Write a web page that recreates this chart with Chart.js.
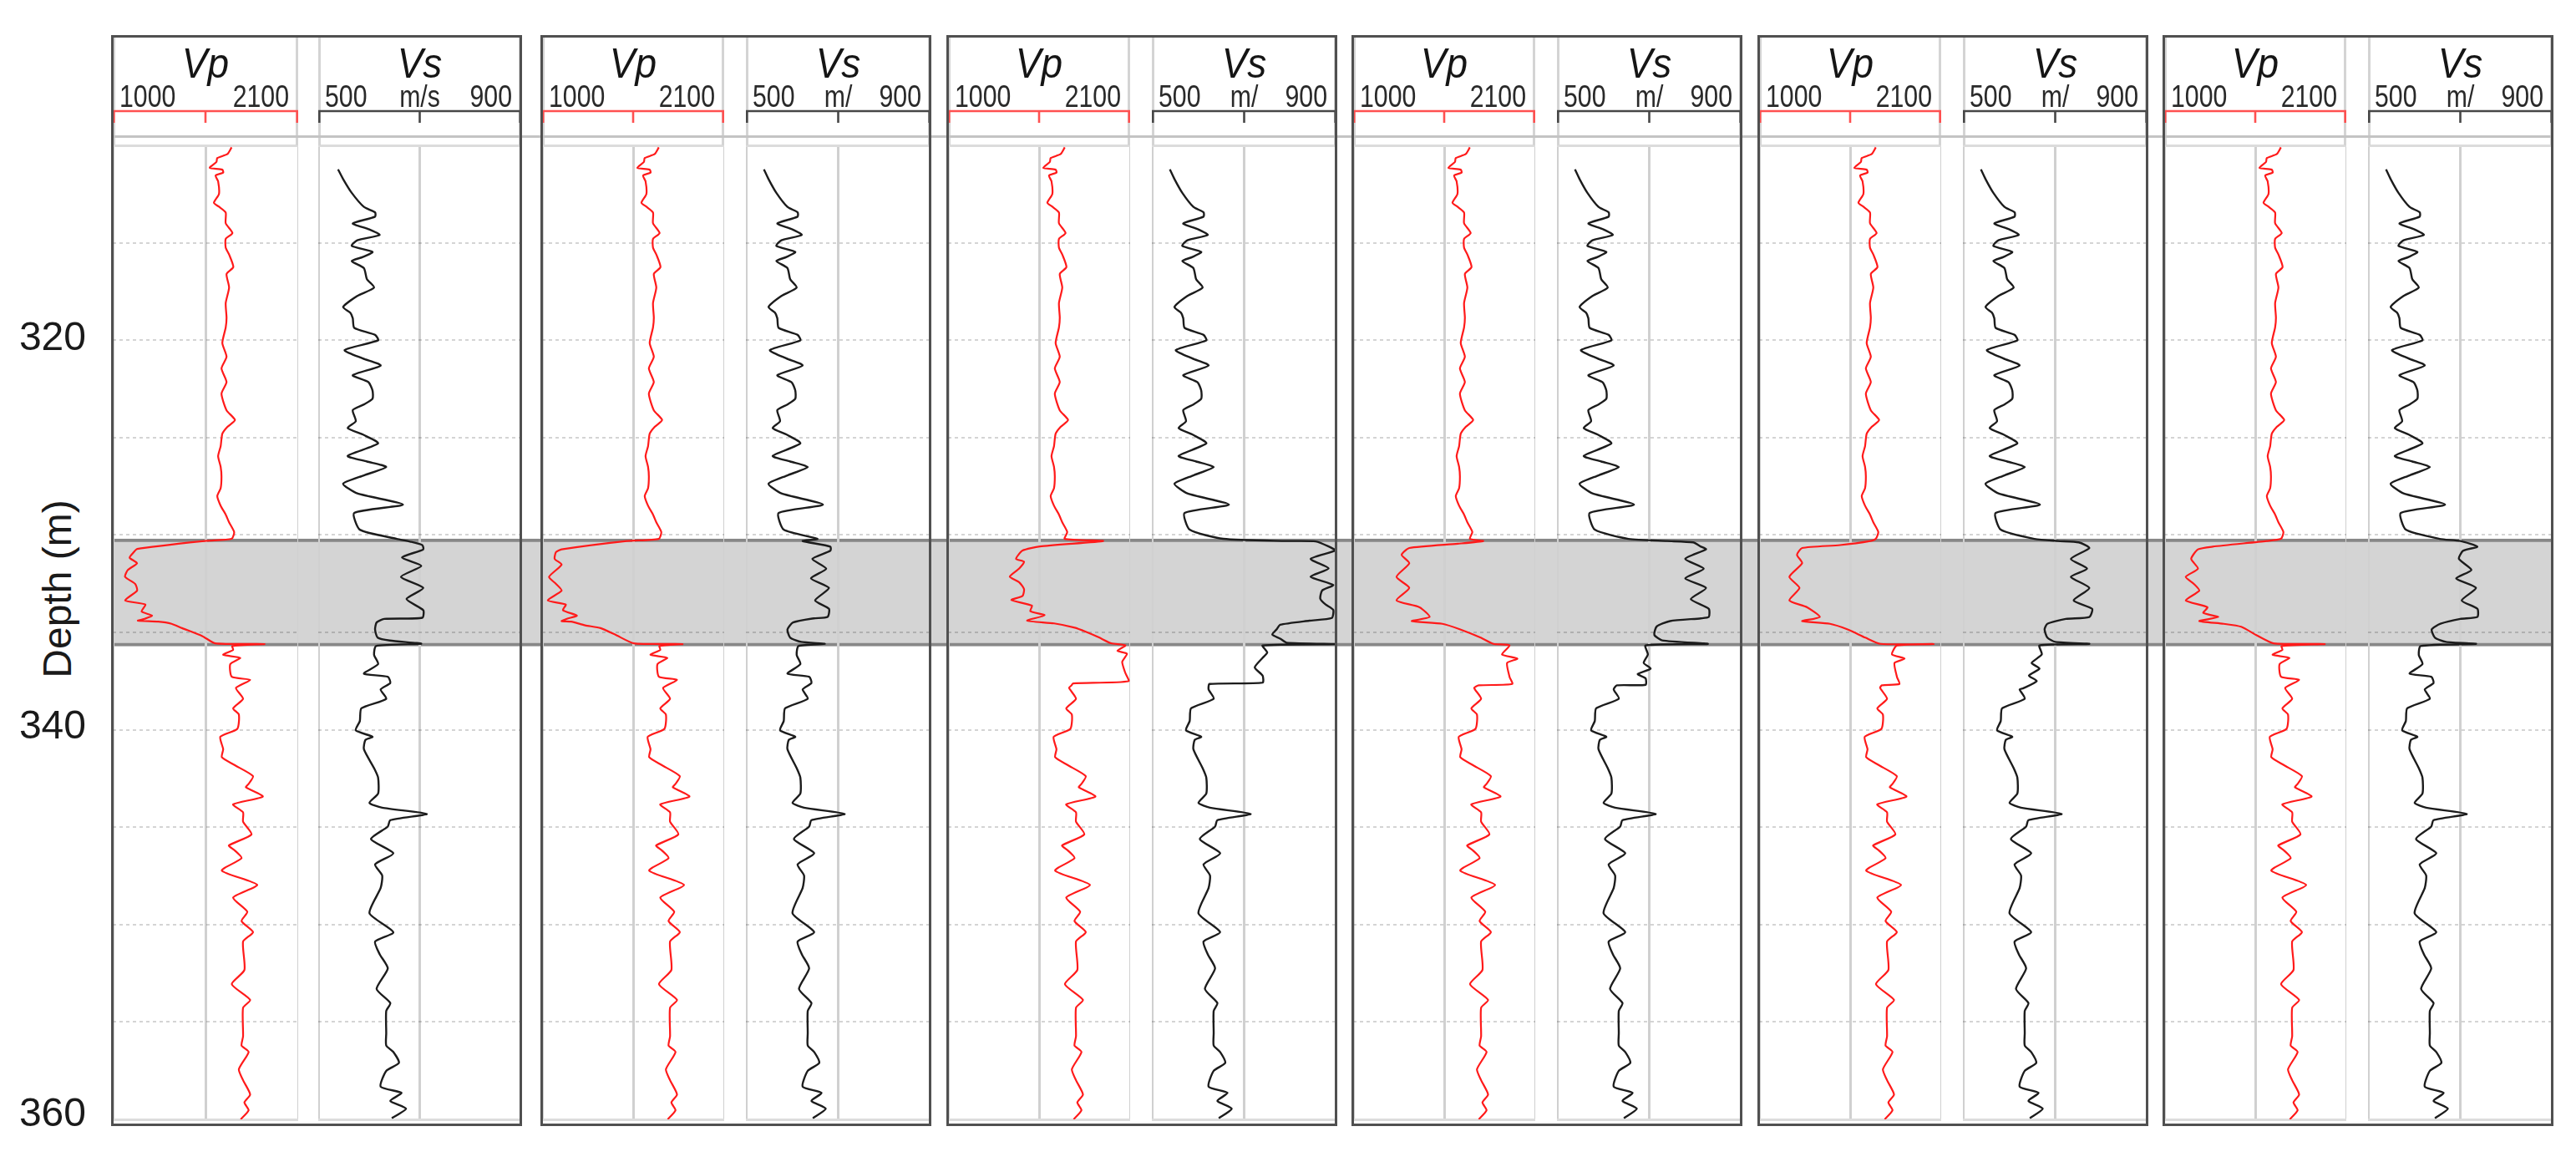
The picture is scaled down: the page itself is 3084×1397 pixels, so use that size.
<!DOCTYPE html>
<html>
<head>
<meta charset="utf-8">
<script src="https://cdn.jsdelivr.net/npm/chart.js@4.4.1/dist/chart.umd.min.js"></script>
<style>
html,body{margin:0;padding:0;background:#fff;}
body{width:3084px;height:1397px;position:relative;overflow:hidden;font-family:"Liberation Sans",Arial,sans-serif;}
canvas{position:absolute;display:block;}
.frame{position:absolute;box-sizing:border-box;border:3px solid #505050;pointer-events:none;z-index:4;}
.sep{position:absolute;height:3px;background:#c4c4c4;z-index:3;}
#ytitle{position:absolute;left:68px;top:705px;font-size:48px;color:#1a1a1a;white-space:nowrap;transform:translate(-50%,-50%) rotate(-90deg);}
</style>
</head>
<body>
<div id="ytitle">Depth (m)</div>
<script>
// ---------------- DATA ----------------
const depthRange = [310, 360];
const depthTickLabels = [320, 340, 360];
const zoneDepths = [330.2, 335.7];
const zoneLabels = ['zone'];
const trackTitles = ['Vp', 'Vs'];
const vpRange = [1000, 2100];
const vsRange = [500, 900];
const vpTickLabels = ['1000', '', '2100'];
const vsTickLabelsFirst = ['500', 'm/s', '900'];
const vsTickLabels = ['500', 'm/', '900'];

// [depth, value] — common section above the zone (all panels)
const upperVp = [[310.1,1705],[310.45,1680],[310.65,1620],[310.85,1615],[311.15,1575],[311.25,1650],[311.4,1655],[311.55,1610],[311.85,1625],[312.5,1630],[312.95,1600],[313.15,1630],[313.45,1670],[314.0,1670],[314.5,1710],[314.8,1670],[315.25,1670],[315.6,1690],[316.25,1715],[316.6,1675],[317.3,1690],[318.1,1670],[318.85,1675],[319.35,1670],[320.15,1650],[320.85,1675],[321.45,1645],[322.15,1675],[322.75,1645],[323.6,1675],[324.1,1725],[324.45,1680],[324.8,1650],[325.45,1640],[325.95,1625],[326.5,1640],[327.0,1645],[327.6,1640],[328.0,1620],[328.5,1640],[328.95,1670],[329.35,1690],[329.85,1720],[330.2,1705]];
const upperVs = [[311.23,539],[311.73,549],[312.44,566],[313.16,590],[313.44,612],[313.66,612],[314.01,568],[314.3,599],[314.6,621],[314.87,577],[315.16,566],[315.47,607],[315.73,588],[315.94,566],[316.3,590],[316.87,596],[317.3,610],[317.73,577],[318.3,549],[318.59,563],[318.87,568],[319.37,571],[319.73,612],[320.01,618],[320.51,552],[320.94,588],[321.3,623],[321.8,568],[322.16,599],[322.59,607],[323.01,607],[323.3,590],[323.59,568],[324.16,574],[324.51,558],[324.87,590],[325.3,618],[325.94,558],[326.23,596],[326.51,634],[326.94,590],[327.37,549],[327.87,577],[328.44,667],[328.87,571],[329.73,582],[330.2,655]];

// zone section, one per panel
const zoneVp1 = [[330.3,1555],[330.72,1145],[330.95,1118],[331.17,1100],[331.45,1144],[331.8,1089],[332.15,1073],[332.51,1133],[332.86,1144],[333.36,1073],[333.57,1193],[333.93,1171],[334.14,1233],[334.3,1190],[334.4,1149],[334.45,1270],[334.56,1349],[334.78,1411],[335.2,1533],[335.56,1607],[335.6,1900]];
const zoneVs1 = [[330.34,681],[330.52,705],[330.74,707],[331.16,665],[331.59,703],[332.15,663],[332.72,707],[333.29,674],[333.86,707],[334.25,705],[334.31,630],[334.49,615],[334.85,612],[335.27,617],[335.42,641],[335.58,703]];
const zoneVp2 = [[330.31,1512],[330.74,1118],[330.88,1084],[331.23,1076],[331.52,1118],[332.15,1042],[332.51,1084],[332.86,1118],[333.36,1034],[333.57,1143],[333.86,1126],[334.14,1210],[334.3,1150],[334.42,1118],[334.45,1176],[334.64,1260],[334.78,1353],[335.13,1445],[335.56,1554],[335.6,1848]];
const zoneVs2 = [[330.31,623],[330.6,683],[330.81,683],[331.23,644],[331.73,674],[332.23,641],[332.72,680],[333.36,650],[333.79,680],[334.21,677],[334.28,647],[334.49,602],[334.85,590],[335.27,596],[335.49,620],[335.59,671]];
const zoneVp3 = [[330.31,1937],[330.59,1555],[330.8,1450],[331.23,1411],[331.37,1459],[331.72,1430],[332.14,1373],[332.43,1430],[332.78,1459],[333.13,1450],[333.34,1383],[333.63,1507],[333.91,1497],[334.12,1583],[334.4,1478],[334.54,1641],[334.76,1765],[334.97,1832],[335.25,1909],[335.56,1985]];
const zoneVs3 = [[330.31,792],[330.33,855],[330.59,883],[330.8,897],[331.23,844],[331.72,883],[332.14,844],[332.57,893],[332.85,869],[333.27,865],[333.56,876],[333.84,893],[334.26,890],[334.4,841],[334.61,778],[334.83,771],[335.11,761],[335.32,778],[335.53,792],[335.6,897]];
const zoneVp4 = [[330.31,1786],[330.45,1632],[330.67,1339],[331.02,1293],[331.45,1339],[332.15,1262],[332.72,1339],[333.36,1262],[333.71,1401],[334.21,1462],[334.42,1354],[334.56,1539],[334.85,1647],[335.27,1770],[335.59,1847]];
const zoneVs4 = [[330.31,739],[330.38,795],[330.6,812],[330.74,823],[331.23,778],[331.73,818],[332.23,778],[332.72,823],[333.29,790],[333.79,829],[334.21,829],[334.28,812],[334.42,745],[334.7,716],[335.13,711],[335.41,728],[335.59,827]];
const zoneVp5 = [[330.31,1672],[330.52,1489],[330.67,1260],[331.02,1229],[331.45,1260],[332.15,1183],[332.72,1244],[333.36,1183],[333.71,1290],[334.21,1367],[334.42,1260],[334.56,1428],[334.85,1535],[335.27,1642],[335.59,1733],[335.6,2054]];
const zoneVs5 = [[330.31,706],[330.38,751],[330.67,774],[331.23,734],[331.73,769],[332.15,734],[332.72,774],[333.36,740],[333.79,780],[334.21,774],[334.31,723],[334.56,683],[334.85,677],[335.27,683],[335.49,700],[335.59,774]];
const zoneVp6 = [[330.31,1619],[330.6,1293],[330.74,1204],[331.23,1163],[331.73,1204],[332.15,1130],[332.51,1179],[332.86,1212],[333.36,1130],[333.71,1261],[334.0,1236],[334.21,1326],[334.42,1212],[334.56,1359],[334.71,1465],[335.13,1554],[335.56,1660],[335.6,1970]];
const zoneVs6 = [[330.31,700],[330.6,737],[330.81,706],[331.23,697],[331.8,724],[332.23,691],[332.72,734],[333.36,703],[333.79,737],[334.21,737],[334.31,700],[334.56,657],[334.85,638],[335.27,645],[335.49,669],[335.59,734]];

// interval just below the zone
const plateauVpBase = [[335.7,1709],[335.9,1714],[336.15,1655],[336.31,1756],[336.63,1697],[337.28,1706],[337.44,1815]];
const plateauVsBase = [[335.7,614],[336.15,610],[336.63,618],[337.12,590],[337.28,637],[337.6,642]];
const plateauVp3 = [[335.67,2071],[335.95,2023],[336.1,2081],[336.52,2052],[337.08,2071],[337.51,2090],[337.62,1756],[337.72,1746]];
const plateauVs3 = [[335.67,740],[336.03,750],[336.31,740],[336.8,723],[337.22,740],[337.58,740],[337.65,625]];
const plateauVp4 = [[335.67,1945],[336.13,1899],[336.35,1992],[336.57,1930],[337.29,1945],[337.65,1961],[337.72,1759]];
const plateauVs4 = [[335.67,692],[336.13,697],[336.57,688],[336.86,703],[337.14,675],[337.36,692],[337.69,692],[337.72,630]];
const plateauVp5 = [[335.67,1833],[336.13,1803],[336.35,1879],[336.57,1818],[337.29,1833],[337.65,1848],[337.72,1742]];
const plateauVs5 = [[335.67,666],[336.13,671],[336.57,649],[336.86,666],[337.22,643],[337.5,660],[337.87,631]];

// common deep section
const deepVp = [[337.85,1731],[338.41,1773],[338.9,1714],[339.22,1748],[339.95,1739],[340.36,1638],[341.0,1655],[341.41,1647],[341.81,1722],[342.38,1832],[342.78,1806],[342.95,1790],[343.43,1890],[343.83,1714],[344.24,1773],[344.72,1773],[345.37,1823],[345.94,1689],[346.18,1722],[346.59,1764],[347.23,1647],[347.96,1857],[348.61,1714],[349.34,1798],[349.82,1764],[350.39,1832],[350.87,1773],[352.33,1781],[353.06,1706],[353.87,1815],[354.27,1773],[355.73,1773],[356.21,1764],[356.54,1806],[357.43,1748],[357.99,1773],[358.72,1815],[359.13,1781],[359.53,1806],[360.0,1759]];
const deepVs = [[337.93,623],[338.41,634],[338.9,585],[339.55,582],[340.03,574],[340.36,607],[340.52,593],[341.0,590],[341.97,610],[342.46,618],[343.27,618],[343.75,601],[344.0,626],[344.32,714],[344.64,642],[344.97,637],[345.61,604],[346.34,648],[346.91,612],[347.48,626],[348.12,623],[349.42,601],[350.39,648],[350.87,612],[351.52,621],[352.25,637],[353.3,615],[354.03,642],[354.43,634],[355.57,634],[356.21,634],[356.54,648],[357.1,659],[357.51,634],[358.32,623],[358.64,664],[359.05,642],[359.45,673],[359.94,645]];

const zoneVp = [zoneVp1, zoneVp2, zoneVp3, zoneVp4, zoneVp5, zoneVp6];
const zoneVs = [zoneVs1, zoneVs2, zoneVs3, zoneVs4, zoneVs5, zoneVs6];
const plateauVp = [plateauVpBase, plateauVpBase, plateauVp3, plateauVp4, plateauVp5, plateauVpBase];
const plateauVs = [plateauVsBase, plateauVsBase, plateauVs3, plateauVs4, plateauVs5, plateauVsBase];

// ---------------- LAYOUT / STYLE ----------------
const TOP = 43, H = 1304, PAD_TOP = 131, PAD_BOTTOM = 7;
const FONT = '"Liberation Sans", Arial, Helvetica, sans-serif';
const panelLeft = [134, 648, 1133.5, 1619, 2104.5, 2590];
const panelWidth = [490, 466, 466, 466, 466, 466];
const VP_COLOR = '#ff1a1a', VS_COLOR = '#1c1c1c';

Chart.defaults.font.family = FONT;

function toPoints(...parts) {
  return parts.flat().map(([d, v]) => ({ x: v, y: d }));
}

function textCondensed(ctx, txt, x, y, align, font, sx, color) {
  if (!txt) return;
  ctx.save();
  ctx.font = font;
  ctx.fillStyle = color;
  ctx.textAlign = align;
  ctx.textBaseline = 'alphabetic';
  ctx.translate(x, y);
  ctx.scale(sx, 1);
  ctx.fillText(txt, 0, 0);
  ctx.restore();
}

const trackHeader = {
  id: 'trackHeader',
  afterDraw(chart, args, o) {
    const { ctx, chartArea } = chart;
    const xs = chart.scales.x;
    const x0 = xs.getPixelForValue(xs.min);
    const x1 = xs.getPixelForValue(xs.max);
    const xm = xs.getPixelForValue((xs.min + xs.max) / 2);
    ctx.save();
    ctx.strokeStyle = '#d4d4d4';
    ctx.lineWidth = 3;
    ctx.beginPath();
    ctx.moveTo(x0 + 1.5, 0); ctx.lineTo(x0 + 1.5, chartArea.top);
    ctx.moveTo(x1 - 1.5, 0); ctx.lineTo(x1 - 1.5, chartArea.top);
    ctx.stroke();
    textCondensed(ctx, o.title, xm, 50, 'center', 'italic 50px ' + FONT, 0.92, '#151515');
    const lf = '36px ' + FONT;
    textCondensed(ctx, o.labels[0], x0 + 8, 85, 'left', lf, 0.84, '#2a2a2a');
    textCondensed(ctx, o.labels[1], xm, 85, 'center', lf, 0.84, '#2a2a2a');
    textCondensed(ctx, o.labels[2], x1 - 11, 85, 'right', lf, 0.84, '#2a2a2a');
    ctx.strokeStyle = o.axisColor;
    ctx.lineWidth = 2.6;
    ctx.beginPath();
    ctx.moveTo(x0, 90); ctx.lineTo(x1, 90);
    [x0 + 1.3, xm, x1 - 1.3].forEach(x => { ctx.moveTo(x, 90); ctx.lineTo(x, 104); });
    ctx.stroke();
    ctx.restore();
  }
};

function makeCanvas(left, top, w, h, z) {
  const c = document.createElement('canvas');
  c.width = Math.round(w); c.height = Math.round(h);
  c.style.left = left + 'px'; c.style.top = top + 'px';
  c.style.width = Math.round(w) + 'px'; c.style.height = Math.round(h) + 'px';
  c.style.zIndex = z;
  document.body.appendChild(c);
  return c;
}

function trackChart(left, width, range, points, color, lw, header) {
  const c = makeCanvas(left, TOP, width, H, 2);
  return new Chart(c, {
    type: 'scatter',
    data: { datasets: [{ data: points, showLine: true, borderColor: color, borderWidth: lw, pointRadius: 0, pointHoverRadius: 0, tension: 0.2, fill: false }] },
    options: {
      responsive: false, animation: false, events: [],
      layout: { padding: { top: PAD_TOP, bottom: PAD_BOTTOM, left: 0, right: 0 }, autoPadding: false },
      plugins: { legend: { display: false }, tooltip: { enabled: false }, trackHeader: header },
      scales: {
        x: { type: 'linear', position: 'bottom', min: range[0], max: range[1],
             ticks: { display: false, stepSize: (range[1] - range[0]) / 2 },
             grid: { color: '#d0d0d0', lineWidth: 3, drawTicks: false },
             border: { display: true, color: '#dcdcdc', width: 3 } },
        x2: { type: 'linear', position: 'top', min: range[0], max: range[1],
              ticks: { display: false }, grid: { display: false, drawTicks: false },
              border: { display: true, color: '#dcdcdc', width: 3 } },
        y: { type: 'linear', reverse: true, min: depthRange[0], max: depthRange[1],
             ticks: { display: false, stepSize: 5 },
             grid: { lineWidth: 2, drawTicks: false,
                     color: c => (c.tick && (c.tick.value === depthRange[0] || c.tick.value === depthRange[1])) ? 'rgba(0,0,0,0)' : 'rgba(0,0,0,0.17)' },
             border: { display: false, dash: [4, 4] } }
      }
    },
    plugins: [trackHeader]
  });
}

// zone band (across all panels)
(function () {
  const left = panelLeft[0];
  const right = panelLeft[5] + panelWidth[5];
  const c = makeCanvas(left, TOP, right - left, H, 1);
  new Chart(c, {
    type: 'bar',
    data: { labels: zoneLabels, datasets: [{ data: [zoneDepths], backgroundColor: '#d4d4d4', borderColor: '#878787',
      borderWidth: { top: 4, bottom: 4, left: 0, right: 0 }, borderSkipped: false, barPercentage: 1, categoryPercentage: 1 }] },
    options: {
      responsive: false, animation: false, events: [],
      layout: { padding: { top: PAD_TOP, bottom: PAD_BOTTOM, left: 0, right: 0 }, autoPadding: false },
      plugins: { legend: { display: false }, tooltip: { enabled: false } },
      scales: { x: { display: false }, y: { display: false, min: depthRange[0], max: depthRange[1], reverse: true } }
    }
  });
})();

// depth axis
(function () {
  const c = makeCanvas(0, TOP, 140, H + 50, 2);
  new Chart(c, {
    type: 'scatter',
    data: { datasets: [] },
    options: {
      responsive: false, animation: false, events: [],
      layout: { padding: { top: PAD_TOP, bottom: PAD_BOTTOM + 50, left: 0, right: 0 }, autoPadding: false },
      plugins: { legend: { display: false }, tooltip: { enabled: false } },
      scales: {
        x: { display: false, min: 0, max: 1 },
        y: { position: 'left', reverse: true, min: depthRange[0], max: depthRange[1],
             afterFit: s => { s.width = 136; },
             ticks: { stepSize: 5, padding: 33, color: '#1a1a1a', font: { size: 48, family: FONT },
                      callback: v => depthTickLabels.includes(v) ? String(v) : null },
             grid: { display: false, drawTicks: false }, border: { display: false } }
      }
    }
  });
})();

// panels
for (let p = 0; p < 6; p++) {
  const L = panelLeft[p], W = panelWidth[p], R = L + W;
  const first = p === 0;
  const vpW = first ? 222 : 218;
  const vsL = first ? L + 247 : L + 245;
  trackChart(L + 1, vpW, vpRange, toPoints(upperVp, zoneVp[p], plateauVp[p], deepVp), VP_COLOR, 2.2,
    { title: trackTitles[0], labels: vpTickLabels, axisColor: '#ff5050' });
  trackChart(vsL, R - vsL, vsRange, toPoints(upperVs, zoneVs[p], plateauVs[p], deepVs), VS_COLOR, 2.4,
    { title: trackTitles[1], labels: first ? vsTickLabelsFirst : vsTickLabels, axisColor: '#474747' });
  const f = document.createElement('div');
  f.className = 'frame';
  f.style.left = (L - 1) + 'px'; f.style.top = '42px';
  f.style.width = (W + 2) + 'px'; f.style.height = '1306px';
  document.body.appendChild(f);
}
const sep = document.createElement('div');
sep.className = 'sep';
sep.style.left = panelLeft[0] + 'px';
sep.style.top = '162px';
sep.style.width = (panelLeft[5] + panelWidth[5] - panelLeft[0]) + 'px';
document.body.appendChild(sep);
</script>
</body>
</html>
